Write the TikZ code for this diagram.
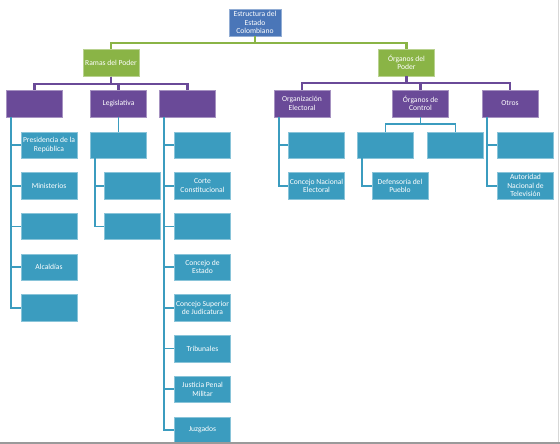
\documentclass[tikz,border=0pt]{standalone}
\usepackage{fontspec}
\setmainfont{Carlito}
\usepackage{xcolor}
\usepackage{tikz}
\usetikzlibrary{positioning}
\definecolor{bluefill}{HTML}{4A76B8}
\definecolor{greenfill}{HTML}{8AB446}
\definecolor{purplefill}{HTML}{6A4A98}
\definecolor{tealfill}{HTML}{3B9CBF}
\definecolor{edgegray}{HTML}{9A9A9A}
\tikzset{
    topbox/.style={rectangle, fill=bluefill, text=white, draw=bluefill!60!white, line width=0.4pt,
    minimum width=52pt, minimum height=27pt, inner sep=0pt, align=center, font=\fontsize{7.6}{8.4}\selectfont},
    greenbox/.style={rectangle, fill=greenfill, text=white, draw=greenfill!60!white, line width=0.4pt,
    minimum width=56pt, minimum height=27pt, inner sep=0pt, align=center, font=\fontsize{7.6}{8.4}\selectfont},
    purplebox/.style={rectangle, fill=purplefill, text=white, draw=purplefill!60!white, line width=0.4pt,
    minimum width=56pt, minimum height=27pt, inner sep=0pt, align=center, font=\fontsize{7.6}{8.4}\selectfont},
    tealbox/.style={rectangle, fill=tealfill, text=white, draw=tealfill!60!white, line width=0.4pt,
    minimum width=56pt, minimum height=26.5pt, inner sep=0pt, align=center, font=\fontsize{7.6}{8.4}\selectfont},
    greenline/.style={draw=greenfill, line width=2.2pt},
    purpleline/.style={draw=purplefill, line width=2.2pt},
    tealline/.style={draw=tealfill, line width=1.8pt},
}

\begin{document}
\begin{tikzpicture}[x=1pt, y=-1pt]

\useasboundingbox (0,0) rectangle (560,444);

% =========================================================
% TOP — Estado, Ramas, Órganos
% =========================================================

        \node[topbox]   (estado)  at (255, 22.5)  {Estructura del\\Estado\\Colombiano};
        \node[greenbox] (ramas)   at (111, 63)    {Ramas del Poder};
        \node[greenbox] (organos) at (406.5, 62.5) {Órganos del\\Poder};

        \draw[greenline] (estado.south) -- ++(0,7) -| (ramas.north);
        \draw[greenline] (estado.south) -- ++(0,7) -| (organos.north);

% Ramas: Ejecutiva (leer), Legislativa, Judicial (leer)
        \node[purplebox] (ejec) at (34.5, 103.5)  {};
        \node[purplebox] (legi) at (118.5, 103.5) {Legislativa};
        \node[purplebox] (judi) at (187.5, 103.5) {};

        \draw[purpleline] (ramas.south) -- ++(0,7) -| (ejec.north);
        \draw[purpleline] (ramas.south) -- ++(0,7) -| (legi.north);
        \draw[purpleline] (ramas.south) -- ++(0,7) -| (judi.north);

% Órganos
        \node[purplebox] (elect) at (302, 103.5)   {Organización\\Electoral};
        \node[purplebox] (ctrl)  at (420.5, 103.5) {Órganos de\\Control};
        \node[purplebox] (otros) at (510, 103.5)   {Otros};

        \draw[purpleline] (organos.south) -- ++(0,7) -| (elect.north);
        \draw[purpleline] (organos.south) -- ++(0,7) -| (ctrl.north);
        \draw[purpleline] (organos.south) -- ++(0,7) -| (otros.north);

% =========================================================
% LEFT — Ramas del Poder
% =========================================================

% Ejecutiva
        \node[tealbox] (e1) at (49, 145)   {Presidencia de la\\República};
        \node[tealbox] (e2) at (49, 185.7) {Ministerios};
        \node[tealbox] (e3) at (49, 226.4) {};
        \node[tealbox] (e4) at (49, 267.1) {Alcaldías};
        \node[tealbox] (e5) at (49, 307.8) {};

        \draw[tealline] ([xshift=5pt]ejec.south west) |- (e1.west);
        \draw[tealline] ([xshift=5pt]ejec.south west) |- (e2.west);
        \draw[tealline] ([xshift=5pt]ejec.south west) |- (e3.west);
        \draw[tealline] ([xshift=5pt]ejec.south west) |- (e4.west);
        \draw[tealline] ([xshift=5pt]ejec.south west) |- (e5.west);

% Legislativa
        \node[tealbox] (l1) at (118.5, 145)   {};
        \node[tealbox] (l2) at (132.5, 185.7) {};
        \node[tealbox] (l3) at (132.5, 226.4) {};

        \draw[tealline] (legi.south) -- (l1.north);
        \draw[tealline] ([xshift=5pt]l1.south west) |- (l2.west);
        \draw[tealline] ([xshift=5pt]l1.south west) |- (l3.west);

% Judicial
        \node[tealbox] (j1) at (202.5, 145)   {};
        \node[tealbox] (j2) at (202.5, 185.7) {Corte\\Constitucional};
        \node[tealbox] (j3) at (202.5, 226.4) {};
        \node[tealbox] (j4) at (202.5, 267.1) {Concejo de\\Estado};
        \node[tealbox] (j5) at (202.5, 307.8) {Concejo Superior\\de Judicatura};
        \node[tealbox] (j6) at (202.5, 348.5) {Tribunales};
        \node[tealbox] (j7) at (202.5, 389.2) {Justicia Penal\\Militar};
        \node[tealbox] (j8) at (202.5, 430)   {Juzgados};

        \draw[tealline] ([xshift=5pt]judi.south west) |- (j1.west);
        \draw[tealline] ([xshift=5pt]judi.south west) |- (j2.west);
        \draw[tealline] ([xshift=5pt]judi.south west) |- (j3.west);
        \draw[tealline] ([xshift=5pt]judi.south west) |- (j4.west);
        \draw[tealline] ([xshift=5pt]judi.south west) |- (j5.west);
        \draw[tealline] ([xshift=5pt]judi.south west) |- (j6.west);
        \draw[tealline] ([xshift=5pt]judi.south west) |- (j7.west);
        \draw[tealline] ([xshift=5pt]judi.south west) |- (j8.west);

% =========================================================
% RIGHT — Órganos del Poder
% =========================================================

% Organización Electoral
        \node[tealbox] (o1) at (316.5, 145)   {};
        \node[tealbox] (o2) at (316.5, 185.7) {Concejo Nacional\\Electoral};

        \draw[tealline] ([xshift=5pt]elect.south west) |- (o1.west);
        \draw[tealline] ([xshift=5pt]elect.south west) |- (o2.west);

% Órganos de Control
        \node[tealbox] (c1) at (385.5, 145)   {};
        \node[tealbox] (c2) at (455.5, 145)   {};
        \node[tealbox] (c3) at (400, 185.7)   {Defensoría del\\Pueblo};

        \draw[tealline] (ctrl.south) -- ++(0,7) -| (c1.north);
        \draw[tealline] (ctrl.south) -- ++(0,7) -| (c2.north);
        \draw[tealline] ([xshift=5pt]c1.south west) |- (c3.west);

% Otros
        \node[tealbox] (t1) at (525.5, 145)   {};
        \node[tealbox] (t2) at (525.5, 185.7) {Autoridad\\Nacional de\\Televisión};

        \draw[tealline] ([xshift=5pt]otros.south west) |- (t1.west);
        \draw[tealline] ([xshift=5pt]otros.south west) |- (t2.west);

% Rand der Seite
        \draw[edgegray!40, line width=0.8pt] (558,0) -- (558,442);
        \draw[edgegray, line width=1.6pt] (0,443.2) -- (560,443.2);

\end{tikzpicture}
\end{document}
